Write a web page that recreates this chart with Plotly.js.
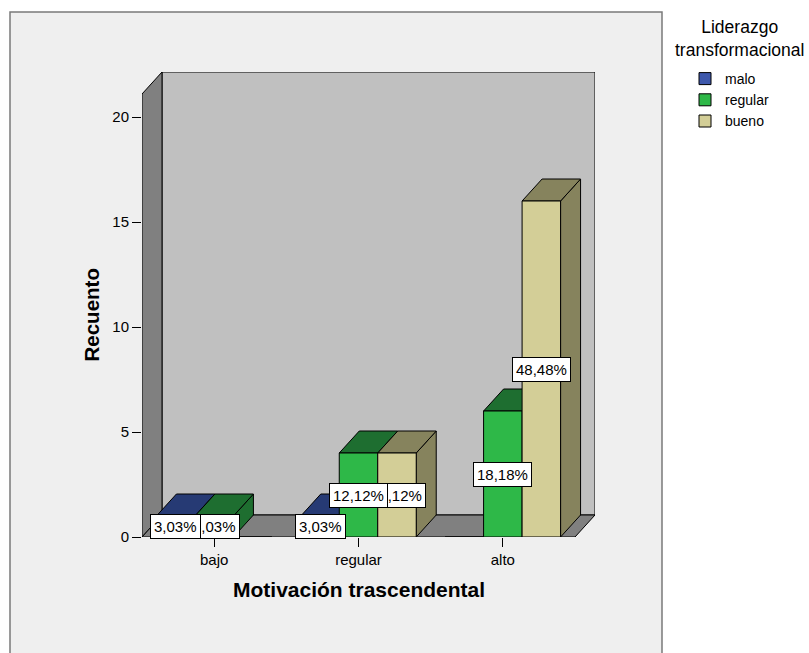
<!DOCTYPE html>
<html>
<head>
<meta charset="utf-8">
<script src="https://cdn.plot.ly/plotly-3.0.1.min.js"></script>
<style>
  html, body { margin: 0; padding: 0; background: #ffffff; }
  #chart { width: 809px; height: 653px; }
</style>
</head>
<body>
<div id="chart"></div>
<script>
// Recuento por nivel de motivación trascendental y liderazgo transformacional
const categories = ['bajo', 'regular', 'alto'];
const seriesNames = ['malo', 'regular', 'bueno'];
const malo = [1, 1, 0];
const regular = [1, 4, 6];
const bueno = [0, 4, 16];
const yTickVals = [0, 5, 10, 15, 20];

const seriesValues = [malo, regular, bueno];
const frontColors = ['#3e58ac', '#2eb848', '#d3ce97'];
const shadeColors = ['#263a74', '#1e6e30', '#86835d'];

const total = seriesValues.reduce((s, arr) => s + arr.reduce((a, b) => a + b, 0), 0);
const pct = v => (v / total * 100).toFixed(2).replace('.', ',') + '%';

// plot-area geometry (pixels) and the oblique depth of the 3D box
const W = 809, H = 653;
const plotL = 142, plotR = 595, plotT = 72, plotB = 537;
const frontR = 575;                       // right edge of the front plane
const xPerPx = 3 / (frontR - plotL);      // three categories across the front plane
const yPerPx = 1 / 21;
const dX = 20 * xPerPx, dY = 22 * yPerPx; // depth offset in data units
const xRange = [-0.5, 2.5 + dX];
const yRange = [0, (plotB - plotT) * yPerPx];
const frontTop = yRange[1] - dY;

const BARGAP = 0.2;
const bw = (1 - BARGAP) / seriesNames.length;

const xp = px => (px - plotL) / (plotR - plotL);
const yp = py => (plotB - py) / (plotB - plotT);

const FONT = 'Liberation Sans, Arial, sans-serif';
const traces = [];

// top and side faces of each bar, painted left to right
categories.forEach((cat, c) => {
  seriesValues.forEach((vals, s) => {
    const v = vals[c];
    if (v <= 0) return;
    const xc = c + (s - 1) * bw;
    const x0 = xc - bw / 2, x1 = xc + bw / 2;
    const face = (xs, ys) => ({
      type: 'scatter', mode: 'lines', x: xs, y: ys,
      fill: 'toself', fillcolor: shadeColors[s],
      line: { color: '#000000', width: 1 },
      hoverinfo: 'skip', showlegend: false
    });
    traces.push(face([x1, x1, x1 + dX, x1 + dX, x1], [0, v, v + dY, dY, 0]));
    traces.push(face([x0, x1, x1 + dX, x0 + dX, x0], [v, v, v + dY, v + dY, v]));
  });
});

// front faces: grouped bars on an overlaid pair of axes so they sit above the faces
seriesNames.forEach((name, s) => {
  traces.push({
    type: 'bar', name: name,
    x: categories.map((_, i) => i), y: seriesValues[s],
    xaxis: 'x2', yaxis: 'y2',
    marker: { color: frontColors[s], line: { color: '#000000', width: 1 } },
    hoverinfo: 'skip'
  });
});

// percentage labels, later series underneath earlier ones
const annotations = [];
for (let s = seriesNames.length - 1; s >= 0; s--) {
  seriesValues[s].forEach((v, c) => {
    if (v <= 0) return;
    annotations.push({
      x: c + (s - 1) * bw, y: v / 2, xref: 'x', yref: 'y',
      text: pct(v), showarrow: false,
      font: { family: FONT, size: 15, color: '#000000' },
      bgcolor: '#ffffff', bordercolor: '#000000', borderwidth: 1, borderpad: 3
    });
  });
}

annotations.push({
  x: 1, y: yp(589), xref: 'x', yref: 'paper',
  text: 'Motivación trascendental', showarrow: false,
  xanchor: 'center', yanchor: 'middle',
  font: { family: FONT, size: 21, color: '#000000', weight: 'bold' }
});
annotations.push({
  x: xp(91), y: frontTop / 2, xref: 'paper', yref: 'y',
  text: 'Recuento', showarrow: false, textangle: -90,
  xanchor: 'center', yanchor: 'middle',
  font: { family: FONT, size: 20.5, color: '#000000', weight: 'bold' }
});
annotations.push({
  x: xp(739), y: yp(38), xref: 'paper', yref: 'paper',
  text: 'Liderazgo<br>transformacional', showarrow: false,
  xanchor: 'center', yanchor: 'middle',
  font: { family: FONT, size: 17.5, color: '#000000' }
});

const shapes = [
  // chart frame
  { type: 'rect', xref: 'paper', yref: 'paper', layer: 'below',
    x0: xp(10), x1: xp(662), y0: yp(720), y1: yp(12),
    fillcolor: '#efefef', line: { color: '#7a7a7a', width: 1.5 } },
  // back wall
  { type: 'rect', xref: 'x', yref: 'y', layer: 'below',
    x0: -0.5 + dX, x1: 2.5 + dX, y0: dY, y1: yRange[1],
    fillcolor: '#c0c0c0', line: { color: '#000000', width: 1 } },
  // left wall
  { type: 'path', xref: 'x', yref: 'y', layer: 'below',
    path: `M ${-0.5},0 L ${-0.5},${frontTop} L ${-0.5 + dX},${yRange[1]} L ${-0.5 + dX},${dY} Z`,
    fillcolor: '#808080', line: { color: '#000000', width: 1 } },
  // floor
  { type: 'path', xref: 'x', yref: 'y', layer: 'below',
    path: `M ${-0.5},0 L 2.5,0 L ${2.5 + dX},${dY} L ${-0.5 + dX},${dY} Z`,
    fillcolor: '#808080', line: { color: '#000000', width: 1 } }
];

const tickFont = { family: FONT, size: 15, color: '#000000' };

const layout = {
  width: W, height: H,
  margin: { l: plotL, r: W - plotR, t: plotT, b: H - plotB, pad: 0 },
  paper_bgcolor: '#ffffff',
  plot_bgcolor: 'rgba(0,0,0,0)',
  barmode: 'group', bargap: BARGAP, bargroupgap: 0,
  showlegend: true,
  legend: {
    x: xp(685), y: yp(63), xanchor: 'left', yanchor: 'top',
    bgcolor: 'rgba(0,0,0,0)', borderwidth: 0,
    font: { family: FONT, size: 14, color: '#000000' },
    tracegroupgap: 0
  },
  xaxis: {
    range: xRange, autorange: false, fixedrange: true,
    tickmode: 'array', tickvals: categories.map((_, i) => i), ticktext: categories,
    ticks: 'outside', ticklen: 9, tickwidth: 1, tickcolor: '#000000',
    showgrid: false, zeroline: false, showline: false, tickfont: tickFont
  },
  yaxis: {
    range: yRange, autorange: false, fixedrange: true,
    tickmode: 'array', tickvals: yTickVals, ticktext: yTickVals.map(String),
    ticks: 'outside', ticklen: 9, tickwidth: 1, tickcolor: '#000000',
    showgrid: false, zeroline: false, showline: false, tickfont: tickFont
  },
  xaxis2: { overlaying: 'x', range: xRange, autorange: false, visible: false, fixedrange: true },
  yaxis2: { overlaying: 'y', range: yRange, autorange: false, visible: false, fixedrange: true },
  shapes: shapes,
  annotations: annotations
};

Plotly.newPlot('chart', traces, layout, { displayModeBar: false, staticPlot: true });
</script>
</body>
</html>
